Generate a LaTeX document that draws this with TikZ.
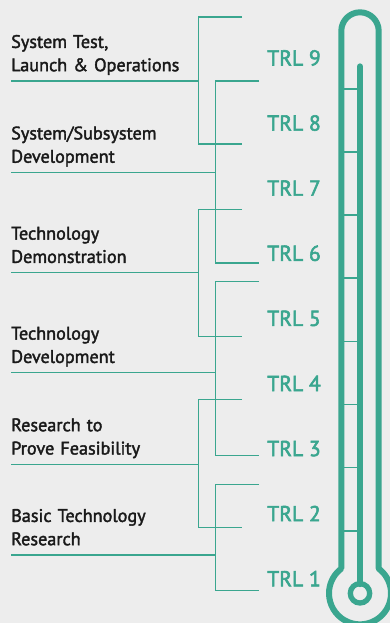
\documentclass[tikz,border=0pt]{standalone}
\usepackage{fontspec}
\setmainfont{PT Sans}
\newfontfamily\lblfont{PT Sans}[FakeBold=2]
\newfontfamily\trlfont{PT Sans}[FakeBold=2.6]
\definecolor{bgc}{HTML}{EDEDED}
\definecolor{trlc}{HTML}{3AA68F}
\definecolor{txtc}{HTML}{1A1A1A}
\tikzset{
  lbl/.style={anchor=base west, inner sep=0pt, text width=200pt, align=left,
    font=\lblfont\fontsize{18.2}{23.3}\selectfont, text=txtc},
  trl/.style={anchor=base west, inner sep=0pt, font=\trlfont\fontsize{21.6}{26}\selectfont, text=trlc},
  brk/.style={draw=trlc, line width=1.5pt},
  wall/.style={draw=trlc, line width=6pt, line join=round},
  tick/.style={draw=trlc, line width=1.7pt},
}
\begin{document}
\begin{tikzpicture}[x=1pt,y=-1pt]
\fill[bgc] (0,0) rectangle (390,623);
\useasboundingbox (0,0) rectangle (390,623);
\clip (0,0) rectangle (390,623);

% left labels
\node[lbl] (l1) at (11,47.9) {System Test,\\Launch \& Operations};
\node[lbl] (l2) at (11,139.4) {System/Subsystem\\Development};
\node[lbl] (l3) at (11,239.6) {Technology\\Demonstration};
\node[lbl] (l4) at (11,339.6) {Technology\\Development};
\node[lbl] (l5) at (11,431.2) {Research to\\Prove Feasibility};
\node[lbl] (l6) at (11,521.9) {Basic Technology\\Research};

% TRL labels
\foreach \k in {1,...,9} {
  \node[trl] (t\k) at (267,{65.5+(9-\k)*65.1}) {TRL \k};
}

% brackets: x, top, bottom, end, label y
\foreach \i/\bx/\top/\bot/\ex/\ly in {
  1/198.5/17/144/242/81,
  2/215.7/81/263/259/172.5,
  3/198.5/209.3/336.7/242/272.7,
  4/215.7/281.7/455.7/259/372.7,
  5/198.5/399.3/527.3/242/464.3,
  6/215.7/484.3/590.3/259/555} {
  \coordinate (a\i) at (\ex,\top);
  \coordinate (b\i) at (\bx,\top);
  \coordinate (c\i) at (\bx,\bot);
  \coordinate (d\i) at (\ex,\bot);
  \coordinate (m\i) at (\bx,\ly);
  \coordinate (s\i) at (11,\ly);
  \draw[brk] (a\i) -- (b\i) -- (c\i) -- (d\i);
  \draw[brk] (s\i) -- (m\i);
}

% thermometer ticks
\foreach \j in {0,...,7} {
  \coordinate (p\j) at (341.3,{89+\j*63.1});
  \coordinate (q\j) at (360,{89+\j*63.1});
  \draw[tick] (p\j) -- (q\j);
}
% thermometer body
\coordinate (tl) at (341.3,568.6);
\coordinate (tr) at (378.7,568.6);
\draw[wall] (tl) -- (341.3,31) arc[start angle=180,end angle=360,radius=18.7]
  -- (tr) arc[start angle=-52.9,end angle=232.9,radius=31] -- cycle;
% mercury
\coordinate (mtop) at (360,66.5);
\coordinate (mbot) at (360,584);
\draw[trlc, line width=6.3pt, line cap=round] (mtop) -- (mbot);
\node[circle, draw=trlc, line width=5.3pt, minimum size=19.4pt, inner sep=0pt] (bulb) at (360,593.3) {};
\end{tikzpicture}
\end{document}
